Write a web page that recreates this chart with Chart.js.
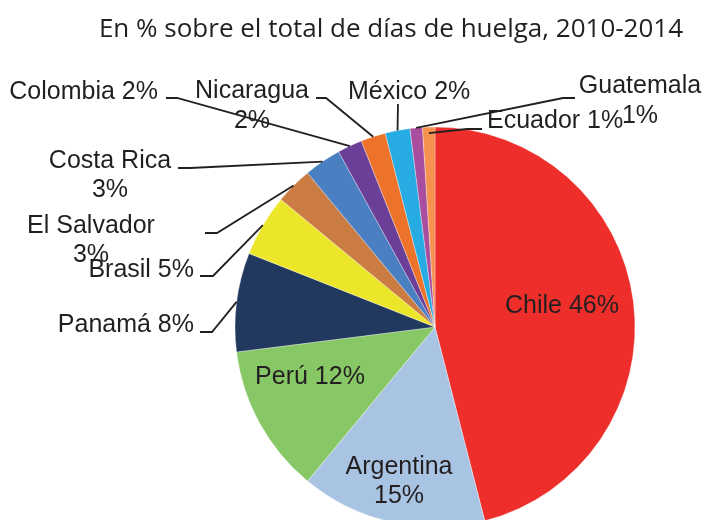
<!DOCTYPE html>
<html>
<head>
<meta charset="utf-8">
<script src="https://cdn.jsdelivr.net/npm/chart.js@4.4.1/dist/chart.umd.min.js"></script>
<style>
  html, body { margin: 0; padding: 0; background: #fff; overflow: hidden; }
  #wrap { width: 704px; height: 540px; }
</style>
</head>
<body>
<div id="wrap"><canvas id="pie-chart" width="704" height="540"></canvas></div>
<script>
// datos: % sobre el total de dias de huelga, 2010-2014
var titulo = 'En % sobre el total de días de huelga, 2010-2014';
var paises = ['Chile', 'Argentina', 'Perú', 'Panamá', 'Brasil', 'El Salvador',
              'Costa Rica', 'Colombia', 'Nicaragua', 'México', 'Guatemala', 'Ecuador'];
var porcentajes = [46, 15, 12, 8, 5, 3, 3, 2, 2, 2, 1, 1];
var colores = ['#ee2e2b', '#a9c4e3', '#87c765', '#22395f', '#ece62a', '#cb7c43',
               '#4a7fc2', '#6b3f97', '#ec7329', '#26ace2', '#a94d9f', '#f6924f'];

var tinta = '#231f20';
var fuente = '25px "Liberation Sans", Arial, sans-serif';

// where each label sits (positions only, text comes from the arrays above)
// dos: name and value on two lines
var etiquetas = {
  0:  { x: 562, y: [313], align: 'center' },
  1:  { x: 399, y: [474, 503], align: 'center', dos: true },
  2:  { x: 310, y: [384], align: 'center' },
  3:  { x: 194, y: [332], align: 'right', codo: [212, 332], fin: [200, 332] },
  4:  { x: 194, y: [277], align: 'right', codo: [213, 276], fin: [200, 276] },
  5:  { x: 91,  y: [233, 262], align: 'center', dos: true, codo: [217, 233], fin: [205, 233] },
  6:  { x: 110, y: [168, 197], align: 'center', dos: true, codo: [190, 168], fin: [178, 168] },
  7:  { x: 158, y: [99], align: 'right', codo: [177, 98], fin: [166, 98] },
  8:  { x: 252, y: [98, 128], align: 'center', dos: true, codo: [326, 98], fin: [316, 98] },
  9:  { x: 348, y: [99], align: 'left', codo: [398, 104], fin: [398, 104] },
  10: { x: 640, y: [93, 123], align: 'center', dos: true, codo: [563, 98], fin: [575, 98] },
  11: { x: 487, y: [128], align: 'left', codo: [467, 129], fin: [482, 129], adentro: 6 }
};

var rotulos = {
  id: 'rotulos',
  afterDraw: function(chart) {
    var ctx = chart.ctx;
    var meta = chart.getDatasetMeta(0);
    ctx.save();

    // title
    ctx.fillStyle = tinta;
    ctx.font = '26px "Open Sans", sans-serif';
    ctx.textAlign = 'center';
    ctx.textBaseline = 'alphabetic';
    ctx.fillText(titulo, 391, 37, 585);

    ctx.font = fuente;
    ctx.strokeStyle = tinta;
    ctx.lineWidth = 1.8;

    paises.forEach(function(p, i) {
      var e = etiquetas[i];
      if (!e) return;
      var arc = meta.data[i];
      if (e.codo) {
        var mid = (arc.startAngle + arc.endAngle) / 2;
        var r = arc.outerRadius - (e.adentro || 0);
        var x0 = arc.x + Math.cos(mid) * r;
        var y0 = arc.y + Math.sin(mid) * r;
        ctx.beginPath();
        ctx.moveTo(x0, y0);
        ctx.lineTo(e.codo[0], e.codo[1]);
        ctx.lineTo(e.fin[0], e.fin[1]);
        ctx.stroke();
      }
      var lineas = e.dos ? [p, porcentajes[i] + '%'] : [p + ' ' + porcentajes[i] + '%'];
      ctx.textAlign = e.align;
      lineas.forEach(function(t, k) {
        ctx.fillText(t, e.x, e.y[k]);
      });
    });
    ctx.restore();
  }
};

new Chart(document.getElementById('pie-chart'), {
  type: 'pie',
  data: {
    labels: paises,
    datasets: [{
      data: porcentajes,
      backgroundColor: colores,
      borderColor: 'rgba(255,255,255,0.55)',
      borderWidth: 0.6,
      radius: 200
    }]
  },
  options: {
    responsive: false,
    animation: false,
    devicePixelRatio: 1,
    layout: {
      padding: { left: 235, right: 69, top: 127, bottom: 13 }
    },
    plugins: {
      legend: { display: false },
      title: { display: false },
      tooltip: { enabled: false }
    }
  },
  plugins: [rotulos]
});
</script>
</body>
</html>
